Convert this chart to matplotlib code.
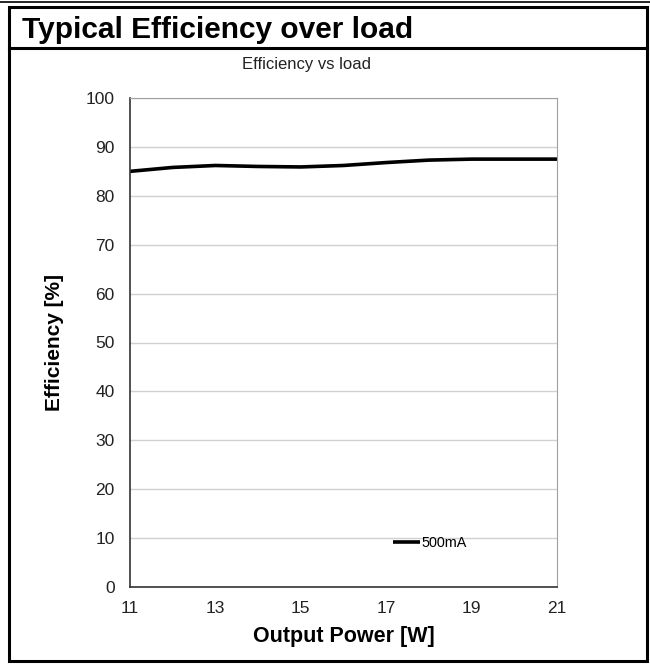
import numpy as np
import matplotlib.pyplot as plt
from matplotlib.patches import Rectangle
from matplotlib.lines import Line2D

plt.rcParams['font.family'] = ['Liberation Sans', 'DejaVu Sans']

# data
power_w = [11, 12, 13, 14, 15, 16, 17, 18, 19, 20, 21]
efficiency = [85.0, 85.8, 86.2, 86.0, 85.9, 86.2, 86.8, 87.3, 87.5, 87.5, 87.5]
series_name = "500mA"
x_ticks = [11, 13, 15, 17, 19, 21]
y_ticks = list(range(0, 101, 10))

W, H = 650, 664
fig = plt.figure(figsize=(W / 100, H / 100), dpi=100)

# frame around the whole thing
def fx(px):
    return px / W

def fy(py):
    return 1 - py / H

fig.add_artist(Line2D([0, 1], [fy(1.5), fy(1.5)], color="black", lw=1.2))
fig.add_artist(Rectangle((fx(9), fy(661)), fx(638), (661 - 7) / H, fill=False,
                         ec="black", lw=2.2))
fig.add_artist(Line2D([fx(9), fx(647)], [fy(48), fy(48)], color="black", lw=2.2))
fig.text(fx(22), fy(30), "Typical Efficiency over load", fontsize=21.5,
         fontweight="bold", va="center", ha="left")

ax = fig.add_axes([fx(130), fy(587), fx(557) - fx(130), fy(98) - fy(587)])
ax.plot(power_w, efficiency, color="black", lw=2.6, label=series_name,
        solid_capstyle="butt", solid_joinstyle="round")

ax.set_xlim(11, 21)
ax.set_ylim(0, 100)
ax.set_xticks(x_ticks)
ax.set_yticks(y_ticks)
ax.grid(axis="y", color="#d0d0d0", lw=1)
ax.set_axisbelow(True)
ax.tick_params(length=0, labelsize=12.5, colors="#222222")
ax.tick_params(axis="x", pad=10)
ax.tick_params(axis="y", pad=11)
for s in ["top", "right"]:
    ax.spines[s].set_color("#a0a0a0")
for s in ["left", "bottom"]:
    ax.spines[s].set_color("#333333")
    ax.spines[s].set_linewidth(1.2)

ax.set_xlabel("Output Power [W]", fontsize=15.5, fontweight="bold", labelpad=7)
ax.set_ylabel("Efficiency [%]", fontsize=15, fontweight="bold", labelpad=16)
fig.text(fx(307), fy(64), "Efficiency vs load", fontsize=12, ha="center", va="center",
         color="#222222")

ax.legend(loc="center left", bbox_to_anchor=(0.616, 0.09), frameon=False, fontsize=10.4,
          handlelength=1.85, handletextpad=0.1, borderpad=0, borderaxespad=0)

fig.savefig("out.png", dpi=100)
